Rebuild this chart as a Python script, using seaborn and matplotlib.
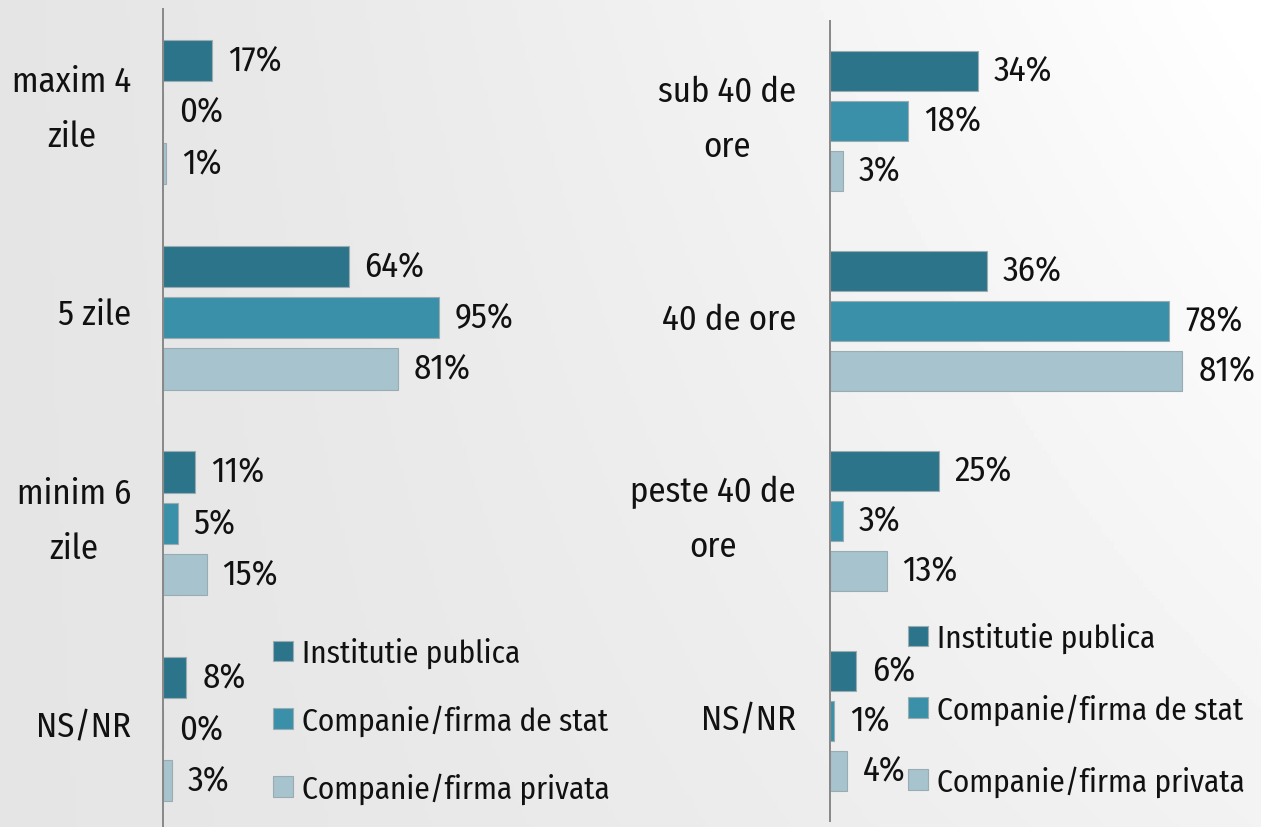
import numpy as np
import pandas as pd
import matplotlib
matplotlib.use("Agg")
import matplotlib.pyplot as plt
import seaborn as sns

# ---- data ----
series = ["Institutie publica", "Companie/firma de stat", "Companie/firma privata"]
colors = ["#2C7489", "#3A90A8", "#A6C3CE"]

left_cats = ["maxim 4\nzile", "5 zile", "minim 6\nzile", "NS/NR"]
left_publica = [17, 64, 11, 8]
left_stat = [0, 95, 5, 0]
left_privata = [1, 81, 15, 3]

right_cats = ["sub 40 de\nore", "40 de ore", "peste 40 de\nore", "NS/NR"]
right_publica = [34, 36, 25, 6]
right_stat = [18, 78, 3, 1]
right_privata = [3, 81, 13, 4]


def long_df(cats, a, b, c):
    rows = []
    for s, vals in zip(series, [a, b, c]):
        for cat, v in zip(cats, vals):
            rows.append({"cat": cat, "serie": s, "val": v})
    return pd.DataFrame(rows)


sns.set_theme(style="white")
plt.rcParams["font.family"] = ["Fira Sans Condensed", "DejaVu Sans"]
FS = 25
LFS = 22.5

W, H = 1261, 828
fig = plt.figure(figsize=(W / 100, H / 100), dpi=100)

# background gradient
bg = fig.add_axes([0, 0, 1, 1], zorder=-10)
xx, yy = np.meshgrid(np.linspace(0, 1, 300), np.linspace(0, 1, 200))
v = 0.895 + 0.105 * np.clip(xx ** 1.3 * (1 - 0.5 * yy) + 0.02, 0, 1)
bg.imshow(v, cmap="gray", vmin=0, vmax=1, aspect="auto", extent=[0, 1, 1, 0])
bg.set_axis_off()


def panel(rect, cats, a, b, c, pxper, pad_px, legend_anchor, labelspacing, yshift):
    ax = fig.add_axes(rect)
    ax.set_facecolor("none")
    df = long_df(cats, a, b, c)
    sns.barplot(data=df, y="cat", x="val", hue="serie", orient="h",
                palette=colors, saturation=1, width=0.75, gap=0.2, ax=ax,
                edgecolor="#9aabb2", linewidth=0.8, legend=True)
    for cont in ax.containers:
        ax.bar_label(cont, labels=[f"{int(v)}%" for v in cont.datavalues],
                     padding=11.5, fontsize=FS, color="#111111")
    width_px = rect[2] * W
    ax.set_xlim(0, width_px / pxper)
    ax.set_ylim(3.5, -0.5)
    ax.set_xticks([])
    ax.set_yticks(np.arange(len(cats)) - yshift, cats)
    ax.set_xlabel("")
    ax.set_ylabel("")
    for s in ["top", "right", "bottom"]:
        ax.spines[s].set_visible(False)
    ax.spines["left"].set_color("#888888")
    ax.spines["left"].set_linewidth(1.4)
    ax.tick_params(axis="y", length=0, pad=pad_px * 0.72, labelsize=FS)
    for t in ax.get_yticklabels():
        t.set_multialignment("center")
        t.set_verticalalignment("center")
        t.set_linespacing(1.8)
        t.set_color("#111111")
    handles, labels = ax.get_legend_handles_labels()
    leg = ax.legend(handles, labels, loc="upper left", bbox_to_anchor=legend_anchor,
                    bbox_transform=fig.transFigure, frameon=False, fontsize=LFS,
                    handlelength=0.63, handleheight=0.63, handletextpad=0.3,
                    labelspacing=labelspacing, borderpad=0, borderaxespad=0)
    for t in leg.get_texts():
        t.set_color("#111111")
    return ax


panel([163 / W, (H - 833) / H, 290 / W, 823 / H], left_cats,
      left_publica, left_stat, left_privata, 2.9, 32,
      (273 / W, 1 - 638 / H), 1.15, 0.015)
panel([830 / W, (H - 822) / H, 431 / W, 800 / H], right_cats,
      right_publica, right_stat, right_privata, 4.35, 34,
      (908 / W, 1 - 623 / H), 1.28, 0.01)

fig.savefig("out.png", dpi=100)
